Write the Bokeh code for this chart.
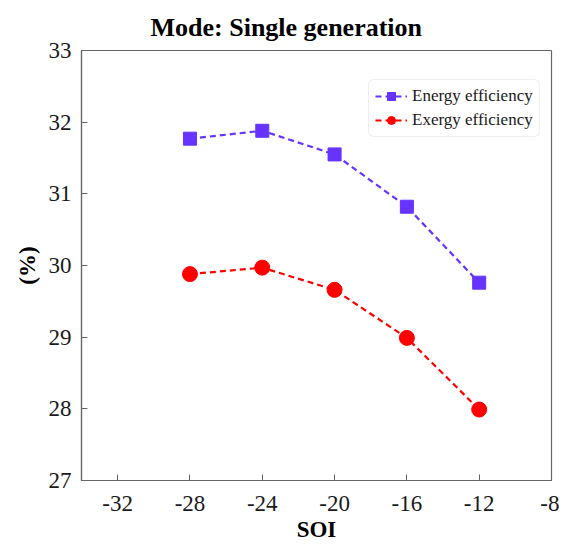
from bokeh.plotting import figure
from bokeh.models import Range1d, FixedTicker, Legend, LegendItem
from bokeh.embed import file_html
from bokeh.resources import INLINE

soi = [-28, -24, -20, -16, -12]
energy_eff = [31.77, 31.88, 31.55, 30.82, 29.76]
exergy_eff = [29.88, 29.97, 29.66, 28.99, 27.99]
x_ticks = [-32, -28, -24, -20, -16, -12, -8]
y_ticks = [27, 28, 29, 30, 31, 32, 33]

FONT = "Liberation Serif"

p = figure(width=559, height=544, output_backend="svg", toolbar_location=None,
           x_range=Range1d(-34, -8), y_range=Range1d(27, 33),
           title="Mode: Single generation",
           min_border_left=81, min_border_right=8, min_border_top=50, min_border_bottom=0)

p.title.align = "left"
p.title.vertical_align = "top"
p.title.text_font = FONT
p.title.text_font_size = "26px"
p.title.text_font_style = "bold"
p.title.text_color = "black"
p.title.offset = 69
p.title.standoff = 14

p.xgrid.visible = False
p.ygrid.visible = False
p.outline_line_color = "#666666"
p.outline_line_width = 1.2

for ax in (p.xaxis, p.yaxis):
    ax.axis_line_color = "#666666"
    ax.axis_line_width = 1.2
    ax.major_tick_in = 6
    ax.major_tick_out = 0
    ax.major_tick_line_color = "#666666"
    ax.minor_tick_line_color = None
    ax.major_label_text_font = FONT
    ax.major_label_text_font_size = "23px"
    ax.major_label_text_color = "#1a1a1a"
    ax.axis_label_text_font = FONT
    ax.axis_label_text_font_size = "23px"
    ax.axis_label_text_font_style = "bold"
    ax.axis_label_text_color = "black"

p.xaxis.ticker = FixedTicker(ticks=x_ticks)
p.yaxis.ticker = FixedTicker(ticks=y_ticks)
p.xaxis.major_label_overrides = {t: str(t) for t in x_ticks}
p.yaxis.major_label_overrides = {t: str(t) for t in y_ticks}
p.xaxis.major_label_standoff = 15
p.yaxis.major_label_standoff = 10
p.xaxis.axis_label = "SOI"
p.yaxis.axis_label = "(%)"
p.xaxis.axis_label_standoff = 3
p.yaxis.axis_label_standoff = 6

c1 = "#6633FF"
c2 = "#FF0000"
l1 = p.line(soi, energy_eff, line_color=c1, line_width=2.2, line_dash="6 4")
s1 = p.scatter(soi, energy_eff, marker="square", size=13, fill_color=c1, line_color=c1)
l2 = p.line(soi, exergy_eff, line_color=c2, line_width=2.2, line_dash="6 4")
s2 = p.scatter(soi, exergy_eff, marker="circle", size=15, fill_color=c2, line_color=c2)

legend = Legend(items=[LegendItem(label="Energy efficiency", renderers=[l1, s1]),
                       LegendItem(label="Exergy efficiency", renderers=[l2, s2])],
                location=(287, 343))
legend.label_text_font = FONT
legend.label_text_font_size = "17px"
legend.label_text_color = "#1a1a1a"
legend.border_line_color = "#dddddd"
legend.border_radius = 6
legend.glyph_width = 32
legend.glyph_height = 20
legend.label_height = 20
legend.spacing = 4
legend.padding = 6
legend.margin = 0
legend.label_standoff = 5
p.add_layout(legend)

open("out.html", "w").write(file_html(p, INLINE))
